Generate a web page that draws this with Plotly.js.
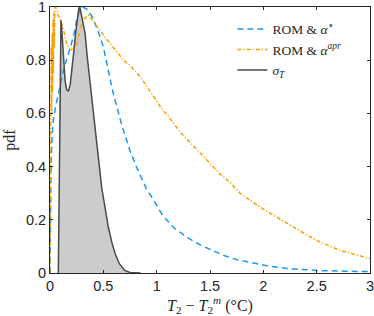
<!DOCTYPE html>
<html>
<head>
<meta charset="utf-8">
<script src="https://cdn.plot.ly/plotly-3.0.1.min.js"></script>
<style>html,body{margin:0;padding:0;background:#fff;}#chart{width:374px;height:316px;}</style>
</head>
<body>
<div id="chart"></div>
<script>
// ROM & alpha° (blue dashed)
const xBlue = [0,0.005,0.01,0.02,0.03,0.05,0.07,0.1,0.13,0.17,0.2,0.22,0.25,0.28,0.31,0.35,0.4,0.45,0.5,0.59,0.67,0.75,0.81,0.9,0.97,1.05,1.16,1.3,1.41,1.52,1.63,1.75,1.91,2.05,2.22,2.4,2.54,2.75,3.0];
const yBlue = [0,0.25,0.4,0.52,0.57,0.62,0.66,0.72,0.77,0.82,0.86,0.89,0.95,0.99,1.0,0.99,0.96,0.91,0.85,0.68,0.56,0.46,0.4,0.32,0.275,0.22,0.17,0.13,0.105,0.085,0.066,0.05,0.036,0.026,0.017,0.012,0.009,0.007,0.005];

// ROM & alpha^apr (orange dash-dot)
const xOrange = [0,0.004,0.008,0.012,0.016,0.02,0.024,0.028,0.032,0.036,0.04,0.047,0.06,0.075,0.094,0.11,0.125,0.14,0.157,0.19,0.22,0.25,0.27,0.3,0.33,0.36,0.4,0.47,0.55,0.62,0.69,0.75,0.85,0.91,0.97,1.06,1.1,1.22,1.41,1.6,1.69,1.78,2.0,2.22,2.4,2.54,2.72,3.0];
const yOrange = [0,0.35,0.62,0.85,0.6,0.9,0.68,0.95,0.75,0.98,0.85,1.0,0.995,0.97,0.95,0.94,0.92,0.89,0.86,0.84,0.84,0.86,0.89,0.94,0.96,0.97,0.95,0.91,0.87,0.835,0.8,0.78,0.735,0.7,0.665,0.61,0.595,0.53,0.45,0.37,0.34,0.3,0.24,0.186,0.145,0.115,0.085,0.054];

// sigma_T (grey, filled)
const xSigma = [0.078,0.083,0.088,0.093,0.098,0.103,0.108,0.115,0.125,0.141,0.155,0.172,0.19,0.21,0.225,0.24,0.255,0.27,0.28,0.29,0.31,0.329,0.35,0.376,0.41,0.438,0.46,0.485,0.52,0.548,0.58,0.61,0.65,0.7,0.75,0.8,0.85];
const ySigma = [0,0.2,0.5,0.75,0.9,0.95,0.93,0.88,0.8,0.725,0.69,0.683,0.71,0.774,0.84,0.9,0.96,0.995,1.0,0.98,0.94,0.9,0.81,0.71,0.59,0.49,0.41,0.32,0.23,0.17,0.115,0.073,0.035,0.01,0.002,0,0];

const xTicks = [0,0.5,1,1.5,2,2.5,3];
const xTickLabels = ['0','0.5','1','1.5','2','2.5','3'];
const yTicks = [0,0.2,0.4,0.6,0.8,1];
const yTickLabels = ['0','0.2','0.4','0.6','0.8','1'];

const names = ['ROM &amp; <i>α</i><sup>∘</sup>', 'ROM &amp; <i>α</i><sup><i>apr</i></sup>', '<i>σ</i><sub><i>T</i></sub>'];

const traces = [
  {x: xSigma, y: ySigma, type: 'scatter', mode: 'none', fill: 'tozeroy', fillcolor: '#cccccc', showlegend: false, hoverinfo: 'skip'},
  {x: xBlue, y: yBlue, type: 'scatter', mode: 'lines', name: names[0], line: {color: '#1a98f2', width: 1.5, dash: '6px,4px'}},
  {x: xOrange, y: yOrange, type: 'scatter', mode: 'lines', name: names[1], line: {color: '#f5a100', width: 1.5, dash: '4px,2px,1.2px,2px'}},
  {x: xSigma, y: ySigma, type: 'scatter', mode: 'lines', name: names[2], line: {color: '#4a4a4a', width: 1.5}}
];

const axisCommon = {
  showline: true, linecolor: '#262626', linewidth: 1, mirror: 'ticks',
  ticks: 'inside', ticklen: 3, tickcolor: '#262626', tickwidth: 1,
  showgrid: false, zeroline: false, ticklabeloverflow: 'allow',
  tickfont: {family: 'Liberation Sans, Arial, sans-serif', size: 14.5, color: '#262626'}
};

const layout = {
  width: 374, height: 316,
  margin: {l: 50, r: 4, t: 7, b: 43},
  paper_bgcolor: '#fff', plot_bgcolor: '#fff',
  showlegend: true,
  xaxis: Object.assign({}, axisCommon, {
    range: [0, 3], tickvals: xTicks, ticktext: xTickLabels,
    title: {text: '<i>T</i><sub>2</sub> − <i>T</i><sub>2</sub><sup><i>m</i></sup> (°C)', font: {family: 'Liberation Serif, Times New Roman, serif', size: 16, color: '#262626'}, standoff: 4}
  }),
  yaxis: Object.assign({}, axisCommon, {
    range: [0, 1], tickvals: yTicks, ticktext: yTickLabels,
    title: {text: 'pdf', font: {family: 'Liberation Serif, Times New Roman, serif', size: 16, color: '#262626'}, standoff: 6}
  }),
  legend: {
    x: 0.57, y: 0.975, xanchor: 'left', yanchor: 'top',
    bgcolor: 'rgba(255,255,255,0)', borderwidth: 0,
    font: {family: 'Liberation Serif, Times New Roman, serif', size: 13.5, color: '#262626'},
    tracegroupgap: 0
  }
};

Plotly.newPlot('chart', traces, layout, {displayModeBar: false, staticPlot: true});
</script>
</body>
</html>
